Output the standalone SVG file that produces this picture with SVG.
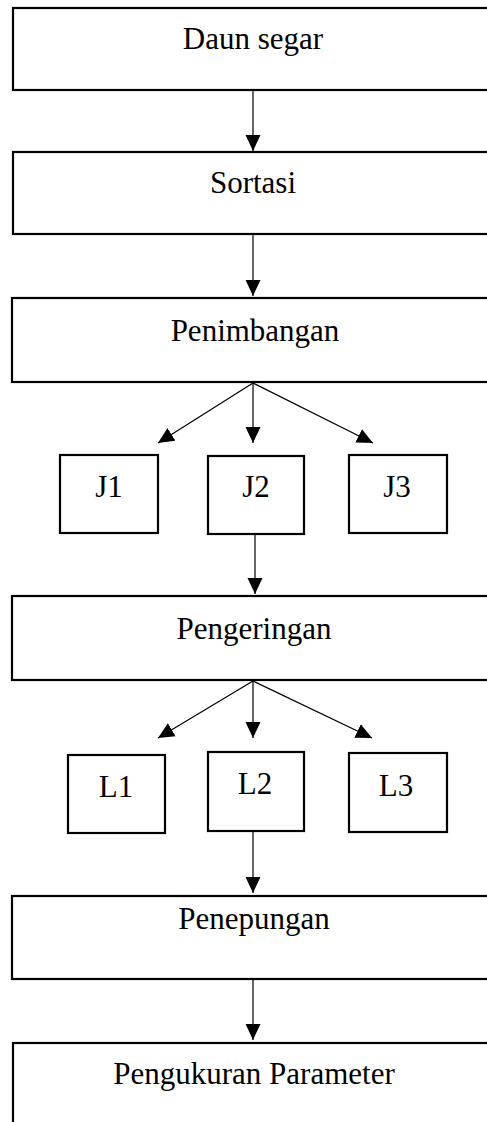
<svg xmlns="http://www.w3.org/2000/svg" width="487" height="1122" viewBox="0 0 487 1122">
<style>
.box{fill:#fff;stroke:#000;stroke-width:2.2}
.lbl{font-family:"Liberation Serif","Times New Roman",serif;font-size:31px;fill:#000;text-anchor:middle}
.con{stroke:#000;stroke-width:1.2;fill:none;marker-end:url(#ah)}
</style>
<defs>
<marker id="ah" viewBox="0 0 16 16" refX="16" refY="8" markerWidth="16" markerHeight="16" markerUnits="userSpaceOnUse" orient="auto">
<path d="M0,0.5 L16,8 L0,15.5 Z" fill="#000"/>
</marker>
</defs>
<rect width="487" height="1122" fill="#fff"/>
<g id="connectors">
<line class="con" x1="253" y1="91" x2="253" y2="151"/>
<line class="con" x1="253" y1="235" x2="253" y2="296"/>
<line class="con" x1="253" y1="383" x2="158" y2="443"/>
<line class="con" x1="253" y1="383" x2="253" y2="443"/>
<line class="con" x1="253" y1="383" x2="373" y2="443"/>
<line class="con" x1="255" y1="535" x2="255" y2="594"/>
<line class="con" x1="253" y1="681" x2="158" y2="738"/>
<line class="con" x1="253" y1="681" x2="253" y2="738"/>
<line class="con" x1="253" y1="681" x2="372" y2="738"/>
<line class="con" x1="253" y1="832" x2="253" y2="893"/>
<line class="con" x1="253" y1="980" x2="253" y2="1040"/>
</g>
<g id="n-daun"><rect class="box" x="13" y="8" width="480" height="82"/><text class="lbl" x="253" y="49">Daun segar</text></g>
<g id="n-sortasi"><rect class="box" x="13" y="152" width="480" height="82"/><text class="lbl" x="253" y="193">Sortasi</text></g>
<g id="n-penimbangan"><rect class="box" x="12" y="298" width="481" height="84"/><text class="lbl" x="255" y="341">Penimbangan</text></g>
<g id="n-j1"><rect class="box" x="60" y="455" width="98" height="78"/><text class="lbl" x="109" y="497">J1</text></g>
<g id="n-j2"><rect class="box" x="208" y="456" width="96" height="78"/><text class="lbl" x="256" y="497">J2</text></g>
<g id="n-j3"><rect class="box" x="349" y="455" width="98" height="78"/><text class="lbl" x="397" y="497">J3</text></g>
<g id="n-pengeringan"><rect class="box" x="12" y="596" width="481" height="84"/><text class="lbl" x="254" y="639">Pengeringan</text></g>
<g id="n-l1"><rect class="box" x="68" y="755" width="97" height="78"/><text class="lbl" x="116" y="797">L1</text></g>
<g id="n-l2"><rect class="box" x="208" y="752" width="96" height="79"/><text class="lbl" x="255" y="794">L2</text></g>
<g id="n-l3"><rect class="box" x="349" y="753" width="98" height="79"/><text class="lbl" x="396" y="796">L3</text></g>
<g id="n-penepungan"><rect class="box" x="12" y="896" width="481" height="83"/><text class="lbl" x="254" y="929">Penepungan</text></g>
<g id="n-pengukuran"><rect class="box" x="13" y="1043" width="480" height="90"/><text class="lbl" x="254" y="1084">Pengukuran Parameter</text></g>
</svg>
